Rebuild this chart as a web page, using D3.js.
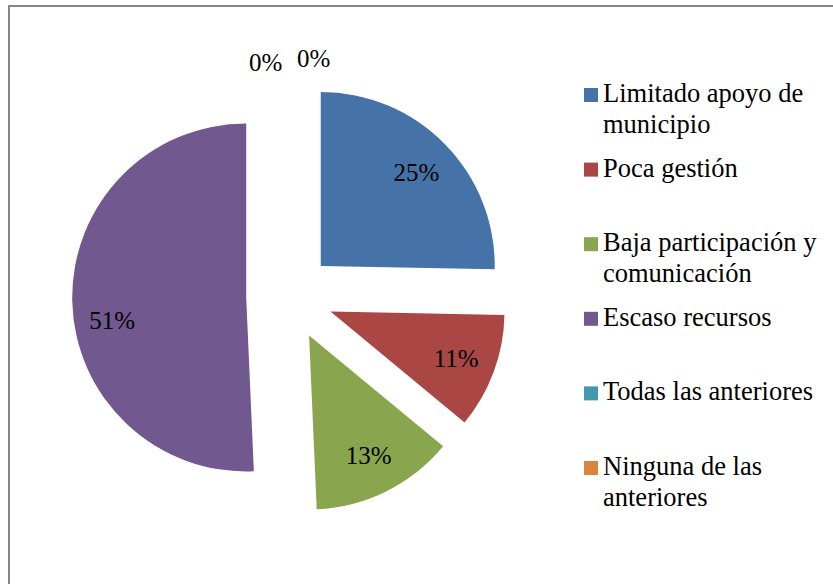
<!DOCTYPE html>
<html>
<head>
<meta charset="utf-8">
<script src="https://cdn.jsdelivr.net/npm/d3@7"></script>
<style>
    body { margin: 0; background: #fff; }
</style>
</head>
<body>
<div id="chart"></div>
<script>
// Chart data (percent shares)
const categories = [
    "Limitado apoyo de municipio",
    "Poca gestión",
    "Baja participación y comunicación",
    "Escaso recursos",
    "Todas las anteriores",
    "Ninguna de las anteriores"
];
const values = [25.3, 10.7, 13.3, 50.7, 0, 0];
const colors = ["#4572A7", "#AA4643", "#89A54E", "#71588F", "#4198AF", "#DB843D"];

const width = 833, height = 584;
const cx = 289.7, cy = 296.5;      // pie centre before explosion
const radius = 174;
const explode = 43.5;              // every slice pulled out by 25% of radius
const serif = "Liberation Serif, Times New Roman, serif";

const svg = d3.select("#chart")
    .append("svg")
    .attr("width", width)
    .attr("height", height)
    .style("display", "block");

svg.append("rect")
    .attr("width", width)
    .attr("height", height)
    .attr("fill", "#fff");

// chart area frame (only top and left edges show in the picture)
svg.append("rect")
    .attr("x", 9)
    .attr("y", 6)
    .attr("width", 1000)
    .attr("height", 1000)
    .attr("fill", "none")
    .attr("stroke", "#868686")
    .attr("stroke-width", 2);

const pie = d3.pie().sort(null).value(d => d);
const arcs = pie(values);
const arc = d3.arc().innerRadius(0).outerRadius(radius);
const total = d3.sum(values);

const color = d3.scaleOrdinal().domain(categories).range(colors);

const g = svg.append("g").attr("transform", `translate(${cx},${cy})`);

arcs.forEach((a, i) => {
    a.mid = (a.startAngle + a.endAngle) / 2;
    a.dx = explode * Math.sin(a.mid);
    a.dy = -explode * Math.cos(a.mid);
    a.name = categories[i];
});

g.selectAll(".slice")
    .data(arcs.filter(a => a.value > 0))
    .enter()
    .append("path")
    .attr("class", "slice")
    .attr("transform", d => `translate(${d.dx},${d.dy})`)
    .attr("d", arc)
    .attr("fill", d => color(d.name));

// data labels
const labelR = radius * 0.77;
const labelFix = { 3: 20 };   // big slice label sits lower in the original
let zeroCount = 0;
arcs.forEach((a, i) => {
    let x, y;
    if (a.value > 0) {
        x = a.dx + labelR * Math.sin(a.mid);
        y = a.dy - labelR * Math.cos(a.mid) + (labelFix[i] || 0);
    } else {
        // empty slices: labels outside the rim, spread sideways
        const side = zeroCount % 2 === 0 ? -1 : 1;
        x = a.dx + (radius + 20) * Math.sin(a.mid) + side * 24;
        y = a.dy - (radius + 19) * Math.cos(a.mid) - side * 2;
        zeroCount++;
    }
    g.append("text")
        .attr("x", x)
        .attr("y", y)
        .attr("text-anchor", "middle")
        .attr("dominant-baseline", "central")
        .attr("font-family", serif)
        .attr("font-size", 25)
        .attr("fill", "#000")
        .text(d3.format(".0%")(a.value / total));
});

// legend
const legend = svg.append("g").attr("transform", "translate(584,0)");
const legendTop = 102, legendStep = 74.6, lineH = 31, maxW = 225;

categories.forEach((name, i) => {
    const y = legendTop + i * legendStep;
    const item = legend.append("g");
    item.append("rect")
        .attr("x", 0)
        .attr("y", y - 14)
        .attr("width", 14)
        .attr("height", 14)
        .attr("fill", color(name));

    const text = item.append("text")
        .attr("x", 19)
        .attr("y", y)
        .attr("font-family", serif)
        .attr("font-size", 26.5)
        .attr("fill", "#000");

    // wrap words to the legend width
    const words = name.split(" ");
    let line = [];
    let lineNo = 0;
    let tspan = text.append("tspan").attr("x", 19).attr("y", y);
    words.forEach(w => {
        line.push(w);
        tspan.text(line.join(" "));
        if (tspan.node().getComputedTextLength() > maxW && line.length > 1) {
            line.pop();
            tspan.text(line.join(" "));
            line = [w];
            lineNo++;
            tspan = text.append("tspan")
                .attr("x", 19)
                .attr("y", y + lineNo * lineH)
                .text(w);
        }
    });
});
</script>
</body>
</html>
